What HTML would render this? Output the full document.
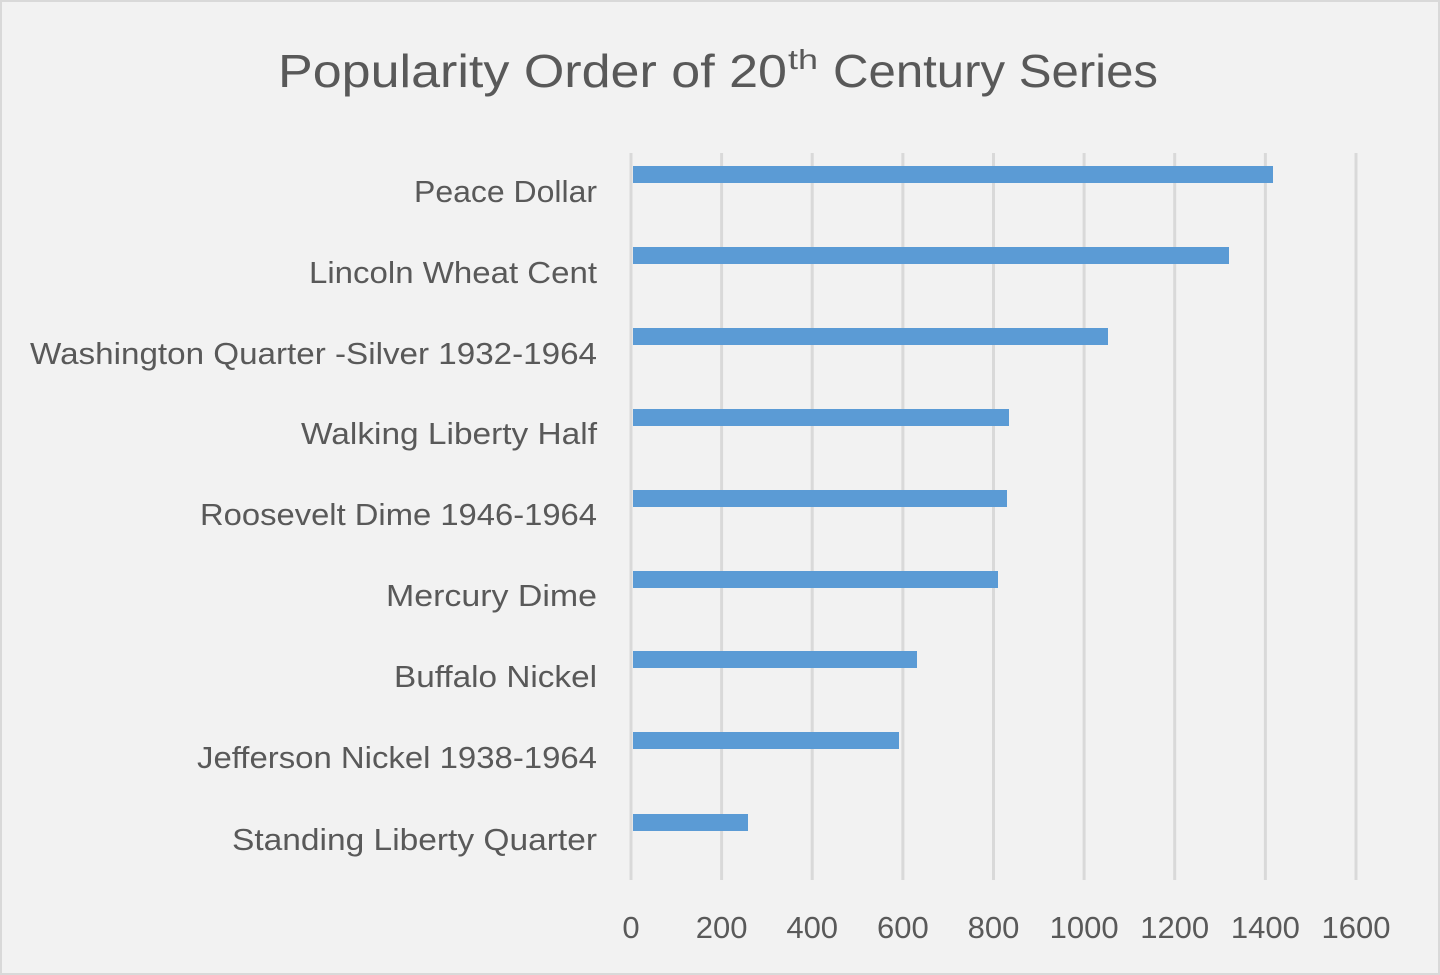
<!DOCTYPE html>
<html><head><style>
html,body{margin:0;padding:0;background:#f2f2f2;}
svg{display:block;}
text{font-family:"Liberation Sans",sans-serif;fill:#595959;}
</style></head><body>
<svg width="1440" height="975" xmlns="http://www.w3.org/2000/svg">
<rect x="1" y="1" width="1438" height="973" fill="#f2f2f2" stroke="#d9d9d9" stroke-width="2"/>
<text x="278" y="87" font-size="46" textLength="509" lengthAdjust="spacingAndGlyphs">Popularity Order of 20</text>
<text x="788" y="69" font-size="28" textLength="30" lengthAdjust="spacingAndGlyphs">th</text>
<text x="833" y="87" font-size="46" textLength="325" lengthAdjust="spacingAndGlyphs">Century Series</text>
<g stroke="#d9d9d9" stroke-width="3">
<line x1="631" y1="153" x2="631" y2="880"/>
<line x1="721.6" y1="153" x2="721.6" y2="880"/>
<line x1="812.2" y1="153" x2="812.2" y2="880"/>
<line x1="902.9" y1="153" x2="902.9" y2="880"/>
<line x1="993.5" y1="153" x2="993.5" y2="880"/>
<line x1="1084.1" y1="153" x2="1084.1" y2="880"/>
<line x1="1174.7" y1="153" x2="1174.7" y2="880"/>
<line x1="1265.4" y1="153" x2="1265.4" y2="880"/>
<line x1="1356" y1="153" x2="1356" y2="880"/>
</g>
<g fill="#5b9bd5">
<rect x="633" y="166" width="640" height="17"/>
<rect x="633" y="247" width="596" height="17"/>
<rect x="633" y="328" width="475" height="17"/>
<rect x="633" y="409" width="376" height="17"/>
<rect x="633" y="490" width="374" height="17"/>
<rect x="633" y="571" width="365" height="17"/>
<rect x="633" y="651" width="284" height="17"/>
<rect x="633" y="732" width="266" height="17"/>
<rect x="633" y="814" width="115" height="17"/>
</g>
<g font-size="31" lengthAdjust="spacingAndGlyphs">
<text x="414" y="202" textLength="183" lengthAdjust="spacingAndGlyphs">Peace Dollar</text>
<text x="309" y="283" textLength="288" lengthAdjust="spacingAndGlyphs">Lincoln Wheat Cent</text>
<text x="30" y="364" textLength="567" lengthAdjust="spacingAndGlyphs">Washington Quarter -Silver 1932-1964</text>
<text x="301" y="444" textLength="296" lengthAdjust="spacingAndGlyphs">Walking Liberty Half</text>
<text x="200" y="525" textLength="397" lengthAdjust="spacingAndGlyphs">Roosevelt Dime 1946-1964</text>
<text x="386" y="606" textLength="211" lengthAdjust="spacingAndGlyphs">Mercury Dime</text>
<text x="394" y="687" textLength="203" lengthAdjust="spacingAndGlyphs">Buffalo Nickel</text>
<text x="197" y="768" textLength="400" lengthAdjust="spacingAndGlyphs">Jefferson Nickel 1938-1964</text>
<text x="232" y="850" textLength="365" lengthAdjust="spacingAndGlyphs">Standing Liberty Quarter</text>
</g>
<g font-size="31" text-anchor="middle">
<text x="631" y="938">0</text>
<text x="721.6" y="938">200</text>
<text x="812.2" y="938">400</text>
<text x="902.9" y="938">600</text>
<text x="993.5" y="938">800</text>
<text x="1084.1" y="938">1000</text>
<text x="1174.7" y="938">1200</text>
<text x="1265.4" y="938">1400</text>
<text x="1356" y="938">1600</text>
</g>
</svg>
</body></html>
